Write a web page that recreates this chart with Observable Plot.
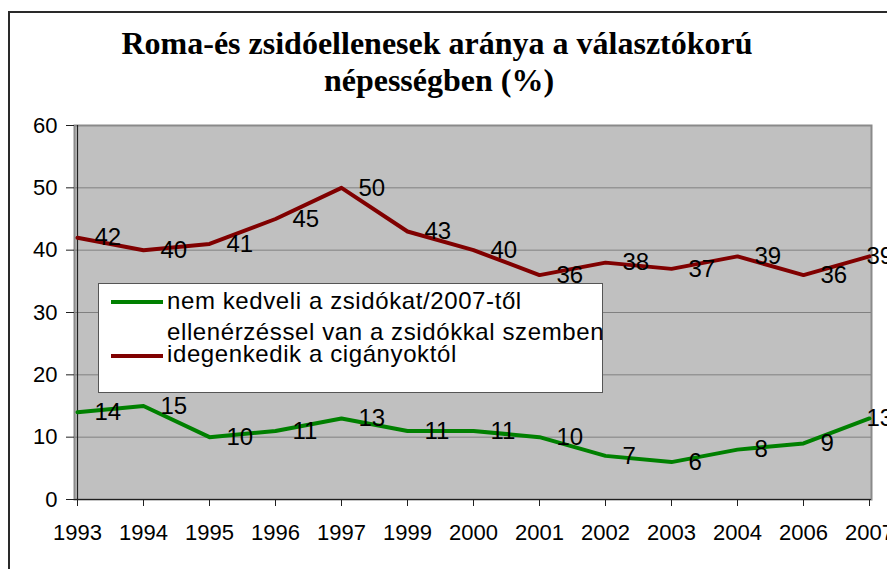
<!DOCTYPE html>
<html><head><meta charset="utf-8">
<script src="https://cdn.jsdelivr.net/npm/d3@7"></script>
<script src="https://cdn.jsdelivr.net/npm/@observablehq/plot@0.6"></script>
<style>
body{margin:0;background:#fff;}
#chart{position:relative;width:887px;height:569px;overflow:hidden;background:#fff;}
</style>
</head><body><div id="chart"></div>
<script>
const years = ["1993","1994","1995","1996","1997","1999","2000","2001","2002","2003","2004","2006","2007"];
const jewsValues = [14,15,10,11,13,11,11,10,7,6,8,9,13];
const romaValues = [42,40,41,45,50,43,40,36,38,37,39,36,39];
const yTicks = [0,10,20,30,40,50,60];
const titleLines = ["Roma-és zsidóellenesek aránya a választókorú","népességben (%)"];
const legendJews = ["nem kedveli a zsidókat/2007-től","ellenérzéssel van a zsidókkal szemben"];
const legendRoma = "idegenkedik a cigányoktól";

const jews = years.map((y,i)=>({year:y, value:jewsValues[i]}));
const roma = years.map((y,i)=>({year:y, value:romaValues[i]}));
const last = years[years.length-1];
const GREEN = "#008000", RED = "#800000";

const labelOpts = (extra) => Object.assign({x:"year", y:"value", text:d=>String(d.value), textAnchor:"start", lineAnchor:"middle", fontSize:24, fill:"#000"}, extra);

const plot = Plot.plot({
  width:887, height:569,
  marginLeft:74, marginRight:16, marginTop:125, marginBottom:70,
  style:{fontFamily:"'Liberation Sans', Arial, sans-serif", fontSize:"22px", color:"#000", background:"transparent", overflow:"visible"},
  x:{type:"point", domain:years, padding:0, label:null},
  y:{domain:[0,60], label:null},
  marks:[
    Plot.frame({fill:"#C0C0C0", stroke:"#8a8a8a", strokeWidth:2}),
    Plot.ruleY(yTicks.filter(d=>d>0 && d<60), {stroke:"#808080", strokeWidth:1}),
    Plot.ruleX([years[0]], {stroke:"#202020", strokeWidth:1.2}),
    Plot.ruleY([0], {stroke:"#202020", strokeWidth:1.2}),
    Plot.axisX({tickSize:7, tickPadding:18, stroke:"#202020", fill:"#000", fontSize:22, label:null}),
    Plot.axisY({ticks:yTicks, tickSize:8, tickPadding:9, stroke:"#202020", fill:"#000", fontSize:22, label:null}),
    Plot.line(roma, {x:"year", y:"value", stroke:RED, strokeWidth:4}),
    Plot.line(jews, {x:"year", y:"value", stroke:GREEN, strokeWidth:4}),
    Plot.text(roma.filter(d=>d.year!==last), labelOpts({dx:17})),
    Plot.text(roma.filter(d=>d.year===last), labelOpts({dx:-3})),
    Plot.text(jews.filter(d=>d.year!==last), labelOpts({dx:17})),
    Plot.text(jews.filter(d=>d.year===last), labelOpts({dx:-3}))
  ]
});
document.getElementById("chart").appendChild(plot);

const svg = d3.select(plot);
// outer chart border
svg.append("rect").attr("x",9).attr("y",12).attr("width",1000).attr("height",1000)
  .attr("fill","none").attr("stroke","#2a2a2a").attr("stroke-width",2);
// title
const tfont = "bold 32px 'Liberation Serif', 'Times New Roman', serif";
svg.append("text").attr("x",437).attr("y",54).attr("text-anchor","middle").style("font",tfont).attr("fill","#000").text(titleLines[0]);
svg.append("text").attr("x",439).attr("y",91).attr("text-anchor","middle").style("font",tfont).attr("fill","#000").text(titleLines[1]);
// legend
const lg = svg.append("g").attr("text-anchor","start");
lg.append("rect").attr("x",98.5).attr("y",283.5).attr("width",504).attr("height",109)
  .attr("fill","#fff").attr("stroke","#555").attr("stroke-width",1);
lg.append("line").attr("x1",111).attr("x2",163).attr("y1",302).attr("y2",302).attr("stroke",GREEN).attr("stroke-width",4);
lg.append("line").attr("x1",111).attr("x2",163).attr("y1",356).attr("y2",356).attr("stroke",RED).attr("stroke-width",4);
const lfont = "24px 'Liberation Sans', Arial, sans-serif";
[[legendJews[0],309],[legendJews[1],340],[legendRoma,362]].forEach(([t,y]) => {
  lg.append("text").attr("x",167).attr("y",y).attr("text-anchor","start")
    .style("font",lfont).style("letter-spacing","0.6px").attr("fill","#000").text(t);
});
</script>
</body></html>
